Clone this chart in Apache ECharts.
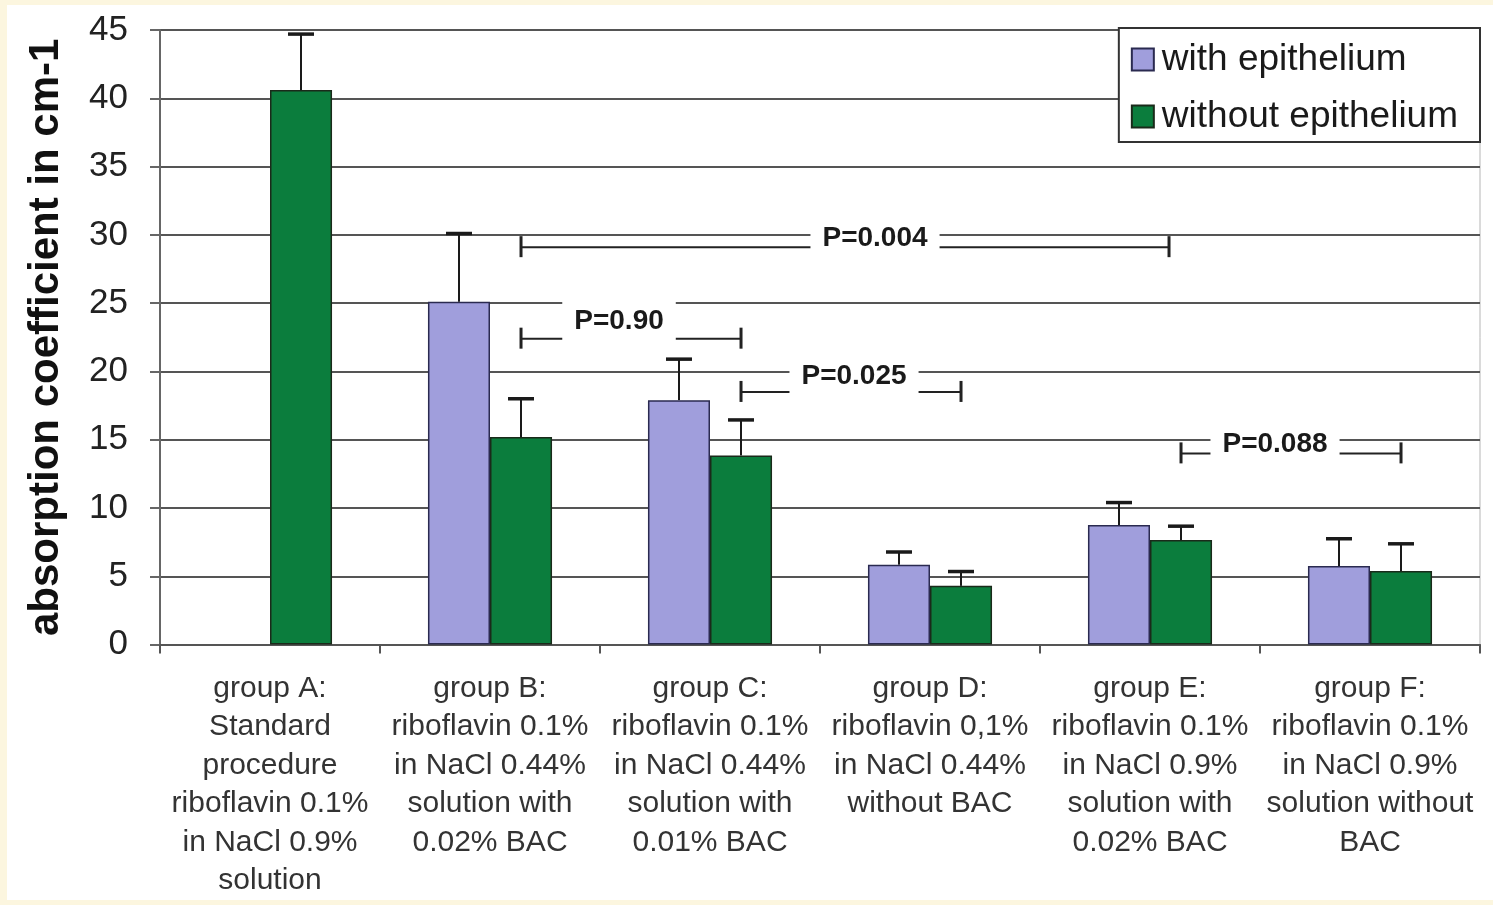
<!DOCTYPE html>
<html>
<head>
<meta charset="utf-8">
<script src="https://cdn.jsdelivr.net/npm/echarts@6/dist/echarts.min.js"></script>
<style>
  html, body { margin: 0; padding: 0; width: 1493px; height: 905px; overflow: hidden; background: #fcf6df; }
  #chart { position: absolute; left: 7px; top: 5px; width: 1486px; height: 895px; background: #ffffff; }
</style>
</head>
<body>
<div id="chart"></div>
<script>
// Group labels on the category axis
const categories = [
  'group A:\nStandard\nprocedure\nriboflavin 0.1%\nin NaCl 0.9%\nsolution',
  'group B:\nriboflavin 0.1%\nin NaCl 0.44%\nsolution with\n0.02% BAC',
  'group C:\nriboflavin 0.1%\nin NaCl 0.44%\nsolution with\n0.01% BAC',
  'group D:\nriboflavin 0,1%\nin NaCl 0.44%\nwithout BAC',
  'group E:\nriboflavin 0.1%\nin NaCl 0.9%\nsolution with\n0.02% BAC',
  'group F:\nriboflavin 0.1%\nin NaCl 0.9%\nsolution without\nBAC'
];

const seriesNames = ['with epithelium', 'without epithelium'];

// Mean absorption coefficients (cm-1) and their standard deviations
const withEpithelium      = [null, 25.1, 17.9, 5.85, 8.75, 5.75];
const withEpitheliumSD    = [null, 5.0, 3.0, 0.93, 1.65, 2.0];
const withoutEpithelium   = [40.6, 15.2, 13.85, 4.3, 7.65, 5.38];
const withoutEpitheliumSD = [4.1, 2.8, 2.6, 1.05, 1.02, 2.0];

// Value axis range
const yMin = 0, yMax = 45, yStep = 5;

// Significance brackets: [group index, series index] at each end, height, p-value text
const bracketFrom   = [[1, 1], [1, 1], [2, 1], [4, 1]];
const bracketTo     = [[4, 1], [2, 1], [3, 1], [5, 1]];
const bracketLevel  = [29.1, 22.4, 18.5, 14.0];
const bracketLabel  = ['P=0.004', 'P=0.90', 'P=0.025', 'P=0.088'];

// Layout / style settings
const FONT = '"Liberation Sans", Arial, Helvetica, sans-serif';
const CATEGORY_GAP = 0.436;
const CAP = 26;
const labelShift = [[24, -9], [-12, -17], [3, -16], [-16, -9]];
const endShift = [[0, -12], [0, 0], [0, 0], [0, 0]];
const colors = ['#a09edc', '#0b7d3d'];

function barWidth(api) {
  const band = api.size([1, 0])[0];
  return band * (1 - CATEGORY_GAP) / 2;
}
function sideOf(seriesIdx) { return seriesIdx === 0 ? -1 : 1; }

function errorBarSeries(values, sds, seriesIdx) {
  const data = [];
  values.forEach((v, i) => { if (v != null) data.push([i, v, v + sds[i]]); });
  return {
    type: 'custom',
    silent: true,
    z: 5,
    clip: false,
    data: data,
    encode: { x: 0, y: [1, 2] },
    renderItem(params, api) {
      const i = api.value(0);
      const base = api.coord([i, api.value(1)]);
      const top = api.coord([i, api.value(2)]);
      const x = base[0] + sideOf(seriesIdx) * barWidth(api) / 2;
      return {
        type: 'group',
        children: [
          { type: 'line', shape: { x1: x, y1: base[1], x2: x, y2: top[1] },
            style: { stroke: '#1a1a1a', lineWidth: 2 } },
          { type: 'line', shape: { x1: x - CAP / 2, y1: top[1], x2: x + CAP / 2, y2: top[1] },
            style: { stroke: '#1a1a1a', lineWidth: 3.5 } }
        ]
      };
    }
  };
}

const bracketData = bracketLevel.map((lvl, k) => [bracketFrom[k][0], bracketTo[k][0], lvl, k]);

const bracketSeries = {
  type: 'custom',
  silent: true,
  z: 6,
  clip: false,
  data: bracketData,
  encode: { x: [0, 1], y: 2 },
  renderItem(params, api) {
    const k = api.value(3);
    const lvl = api.value(2);
    const bw = barWidth(api);
    const p1 = api.coord([api.value(0), lvl]);
    const p2 = api.coord([api.value(1), lvl]);
    const x1 = p1[0] + sideOf(bracketFrom[k][1]) * bw / 2 + endShift[k][0];
    const x2 = p2[0] + sideOf(bracketTo[k][1]) * bw / 2 + endShift[k][1];
    const y = p1[1];
    const stroke = { stroke: '#222', lineWidth: 2 };
    return {
      type: 'group',
      children: [
        { type: 'line', shape: { x1: x1, y1: y, x2: x2, y2: y }, style: stroke },
        { type: 'line', shape: { x1: x1, y1: y - 11, x2: x1, y2: y + 10 }, style: { stroke: '#222', lineWidth: 3 } },
        { type: 'line', shape: { x1: x2, y1: y - 11, x2: x2, y2: y + 10 }, style: { stroke: '#222', lineWidth: 3 } },
        { type: 'text', z2: 10,
          style: {
            text: bracketLabel[k],
            x: (x1 + x2) / 2 + labelShift[k][0] + (k === 0 ? 6 : 0),
            y: y + labelShift[k][1],
            align: 'center', verticalAlign: 'middle',
            fill: '#1a1a1a',
            fontSize: 28, fontWeight: 'bold', fontFamily: FONT,
            backgroundColor: '#ffffff',
            padding: [6, 12]
          } }
      ]
    };
  }
};

const chart = echarts.init(document.getElementById('chart'), null, { renderer: 'canvas' });

chart.setOption({
  animation: false,
  backgroundColor: '#ffffff',
  textStyle: { fontFamily: FONT },
  grid: { left: 153, right: 13, top: 25, bottom: 254, show: true, borderColor: '#b5b5b5', borderWidth: 1 },
  legend: {
    data: seriesNames,
    orient: 'vertical',
    right: 13,
    top: 23,
    backgroundColor: '#ffffff',
    borderColor: '#333333',
    borderWidth: 2,
    borderRadius: 0,
    padding: [13, 22, 7, 12],
    itemWidth: 22,
    itemHeight: 22,
    itemGap: 20,
    icon: 'rect',
    textStyle: { fontSize: 37, color: '#1a1a1a', lineHeight: 36, padding: [0, 0, 0, 3], fontFamily: FONT }
  },
  xAxis: {
    type: 'category',
    data: categories,
    axisLine: { lineStyle: { color: '#555', width: 2 } },
    axisTick: { show: true, length: 9, lineStyle: { color: '#555', width: 2 } },
    axisLabel: { interval: 0, fontSize: 30, lineHeight: 38.4, color: '#333', margin: 25 },
    splitLine: { show: false }
  },
  yAxis: {
    type: 'value',
    min: yMin, max: yMax, interval: yStep,
    axisLine: { show: true, lineStyle: { color: '#666', width: 2 } },
    axisTick: { show: true, length: 10, lineStyle: { color: '#666', width: 2 } },
    axisLabel: { fontSize: 35, color: '#222', margin: 32 },
    splitLine: { show: true, lineStyle: { color: '#555', width: 2 } },
    name: 'absorption coefficient in cm-1',
    nameLocation: 'middle',
    nameGap: 93,
    nameTextStyle: { fontSize: 42, fontWeight: 'bold', color: '#111' }
  },
  series: [
    {
      name: seriesNames[0], type: 'bar', data: withEpithelium,
      barGap: 0, barCategoryGap: (CATEGORY_GAP * 100) + '%',
      itemStyle: { color: colors[0], borderColor: '#2a2a50', borderWidth: 1.5 }
    },
    {
      name: seriesNames[1], type: 'bar', data: withoutEpithelium,
      barGap: 0, barCategoryGap: (CATEGORY_GAP * 100) + '%',
      itemStyle: { color: colors[1], borderColor: '#1a2a1a', borderWidth: 1.5 }
    },
    errorBarSeries(withEpithelium, withEpitheliumSD, 0),
    errorBarSeries(withoutEpithelium, withoutEpitheliumSD, 1),
    bracketSeries
  ]
});
</script>
</body>
</html>
